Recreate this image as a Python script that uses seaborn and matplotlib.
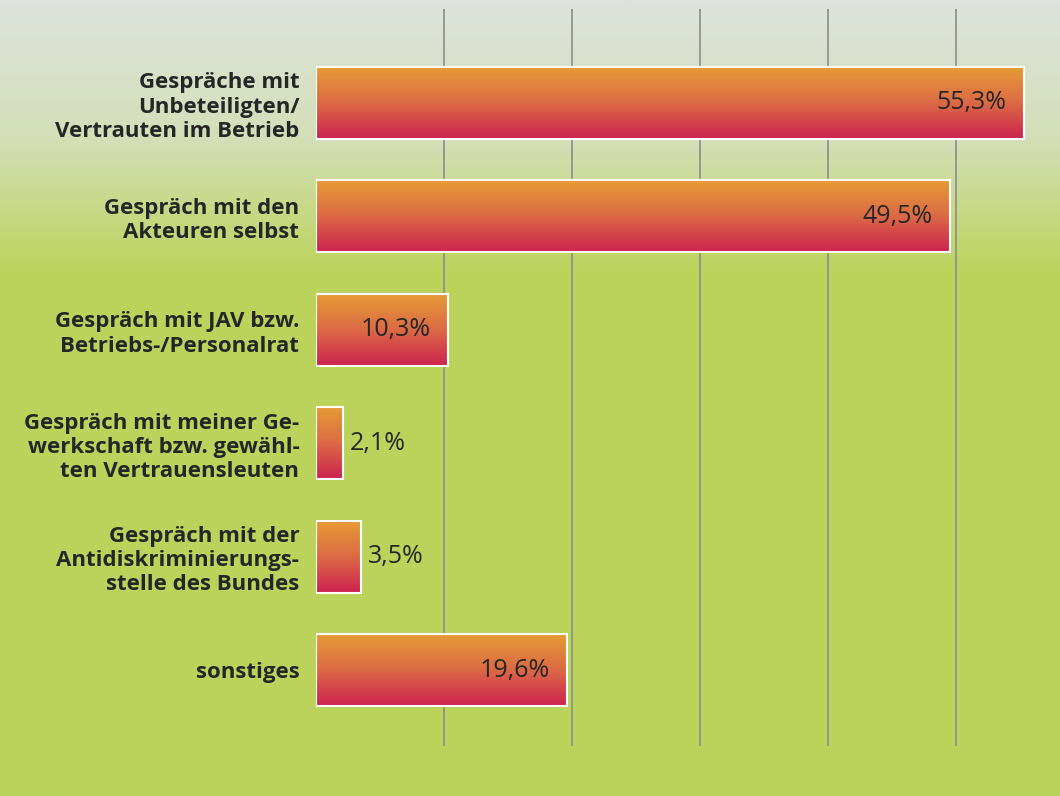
import numpy as np
import pandas as pd
import matplotlib
matplotlib.use("Agg")
import matplotlib.pyplot as plt
from matplotlib.colors import LinearSegmentedColormap
import seaborn as sns

categories = [
    "Gespräche mit\nUnbeteiligten/\nVertrauten im Betrieb",
    "Gespräch mit den\nAkteuren selbst",
    "Gespräch mit JAV bzw.\nBetriebs-/Personalrat",
    "Gespräch mit meiner Ge-\nwerkschaft bzw. gewähl-\nten Vertrauensleuten",
    "Gespräch mit der\nAntidiskriminierungs-\nstelle des Bundes",
    "sonstiges",
]
values = [55.3, 49.5, 10.3, 2.1, 3.5, 19.6]
value_labels = ["55,3%", "49,5%", "10,3%", "2,1%", "3,5%", "19,6%"]
grid_positions = [10, 20, 30, 40, 50]

df = pd.DataFrame({"kategorie": categories, "anteil": values})

sns.set_theme(style="white")
plt.rcParams["font.family"] = ["Open Sans", "DejaVu Sans"]

W, H = 1060, 796
fig = plt.figure(figsize=(W / 100, H / 100), dpi=100)

# background: pale grey-green fading into a flat lime green
bg = fig.add_axes([0, 0, 1, 1], zorder=0)
bg_cmap = LinearSegmentedColormap.from_list(
    "bg", [(0.0, "#dde3dc"), (0.17, "#d4dfb8"), (0.34, "#bcd45c"), (1.0, "#bbd35b")]
)
grad = np.linspace(0, 1, 400).reshape(-1, 1)
bg.imshow(grad, aspect="auto", cmap=bg_cmap, extent=[0, 1, 0, 1], origin="upper")
bg.set_axis_off()

# plotting area in pixel coordinates
left_px, right_px, top_px, bottom_px = 316, 1060, 9, 746
ax = fig.add_axes(
    [left_px / W, 1 - bottom_px / H, (right_px - left_px) / W, (bottom_px - top_px) / H],
    zorder=1,
)
ax.patch.set_alpha(0)

sns.barplot(data=df, y="kategorie", x="anteil", orient="h", ax=ax,
            width=0.635, color="#d9603f", edgecolor="white", linewidth=1.5, zorder=3)

px_per_unit = 12.8
xlim = (0, (right_px - left_px) / px_per_unit)
step = 113.4
ylim = ((bottom_px - 103) / step, -(103 - top_px) / step)

# vertical guide lines
ax.set_xticks(grid_positions)
ax.xaxis.grid(True, color="#8c8c8c", linewidth=1.2, zorder=0)
ax.yaxis.grid(False)
ax.set_axisbelow(True)
ax.tick_params(axis="x", length=0, labelbottom=False)
ax.tick_params(axis="y", length=0, pad=12)
for s in ax.spines.values():
    s.set_visible(False)
ax.set_xlabel("")
ax.set_ylabel("")
for lab in ax.get_yticklabels():
    lab.set_fontweight("bold")
    lab.set_fontsize(16)
    lab.set_color("#262626")
    lab.set_linespacing(1.2)

# orange-to-crimson fill for every bar
bar_cmap = LinearSegmentedColormap.from_list("bar", ["#e69d35", "#dc6a45", "#cc2350"])
vgrad = np.linspace(0, 1, 256).reshape(-1, 1)
for patch in ax.patches:
    x0, y0 = patch.get_x(), patch.get_y()
    w, h = patch.get_width(), patch.get_height()
    im = ax.imshow(vgrad, aspect="auto", cmap=bar_cmap,
                   extent=[x0, x0 + w, y0 + h, y0], origin="upper", zorder=2.5)
    im.set_clip_path(patch)
    patch.set_facecolor("none")
ax.set_xlim(*xlim)
ax.set_ylim(*ylim)

# value labels: inside the bar when there is room, otherwise right of it
for i, (v, txt) in enumerate(zip(values, value_labels)):
    if v > 8:
        ax.text(v - 1.35, i, txt, ha="right", va="center", fontsize=18,
                color="#262626", zorder=4)
    else:
        ax.text(v + 0.55, i, txt, ha="left", va="center", fontsize=18,
                color="#262626", zorder=4)

fig.savefig("out.png", dpi=100)
